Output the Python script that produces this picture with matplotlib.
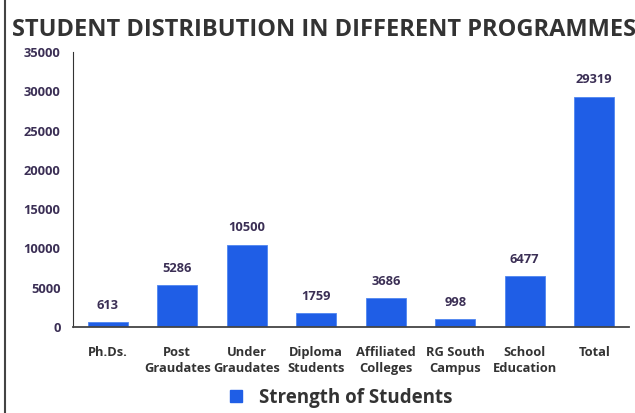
import matplotlib
matplotlib.use('Agg')
import matplotlib.pyplot as plt
from matplotlib.lines import Line2D

categories = ['Ph.Ds.', 'Post\nGraudates', 'Under\nGraudates', 'Diploma\nStudents',
              'Affiliated\nColleges', 'RG South\nCampus', 'School\nEducation', 'Total']
strength = [613, 5286, 10500, 1759, 3686, 998, 6477, 29319]
yticks = [0, 5000, 10000, 15000, 20000, 25000, 30000, 35000]

plt.rcParams['font.family'] = ['Open Sans', 'DejaVu Sans']
label_col = '#3b2f55'
bar_col = '#1f5ee6'

fig = plt.figure(figsize=(6.35, 4.13), dpi=100)
ax = fig.add_axes([73/635, 1-327/413, 556/635, 275/413])

x = range(len(categories))
bars = ax.bar(x, strength, width=0.575, color=bar_col, edgecolor='#4f86f0', linewidth=0.6)
for xi, v in zip(x, strength):
    ax.text(xi, v + 1300, str(v), ha='center', va='bottom', fontsize=9.3,
            fontweight='bold', color=label_col)

ax.set_xlim(-0.5, len(categories) - 0.5)
ax.set_ylim(0, 35000)
ax.set_yticks(yticks)
ax.set_yticklabels([str(t) for t in yticks], fontsize=9.3, fontweight='bold', color=label_col)
ax.set_xticks(list(x))
ax.set_xticklabels(categories, fontsize=9.3, fontweight='bold', color='#333333', linespacing=1.25)
ax.tick_params(axis='y', length=0, pad=9)
ax.tick_params(axis='x', length=0, pad=14)
for s in ['top', 'right']:
    ax.spines[s].set_visible(False)
ax.spines['left'].set_color('#333333')
ax.spines['bottom'].set_color('#444444')
ax.spines['bottom'].set_linewidth(1.3)

fig.text(12/635, 1-30/413, 'STUDENT DISTRIBUTION IN DIFFERENT PROGRAMMES', fontsize=17,
         fontweight='bold', color='#333333', va='center', ha='left')

handle = Line2D([], [], marker='s', linestyle='none', markersize=8.5, color=bar_col)
fig.legend([handle], ['Strength of Students'], loc='center', bbox_to_anchor=(0.527, 1-398/413),
           frameon=False, prop={'size': 13.5, 'weight': 'bold'}, handletextpad=0.2,
           labelcolor='#333333')

fig.add_artist(Line2D([5/635, 5/635], [0, 1], color='#444444', linewidth=1.5))

fig.savefig('out.png', dpi=100)
